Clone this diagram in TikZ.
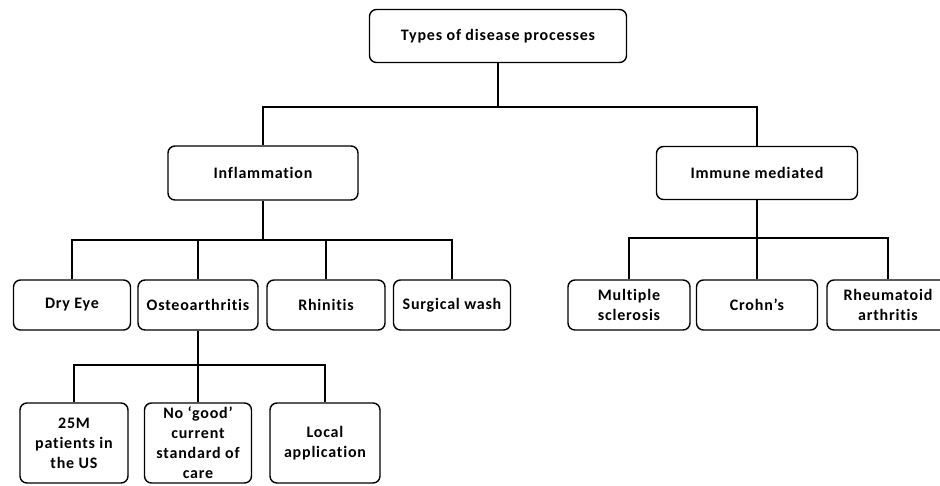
\documentclass[tikz,border=0pt]{standalone}
\usepackage{fontspec}
\setmainfont{Carlito}[LetterSpace=5, Ligatures=NoCommon]
\begin{document}
\begin{tikzpicture}[x=1pt, y=-1pt,
    box/.style={draw, line width=1.4pt, rounded corners=7pt, align=center, inner sep=0pt,
        font=\bfseries\fontsize{16}{20}\selectfont},
    link/.style={line width=1.3pt}]

    \useasboundingbox (0,0) rectangle (940,485);
    \clip (0,0) rectangle (940,485);

    \node[box, minimum width=257, minimum height=53] (types) at (498,36) {Types of disease processes};

    \node[box, minimum width=190, minimum height=54] (infl) at (263,173) {Inflammation};
    \node[box, minimum width=201, minimum height=53] (immune) at (757,173) {Immune mediated};

    \node[box, minimum width=117, minimum height=50] (dry) at (72,305) {Dry Eye};
    \node[box, minimum width=120, minimum height=50] (osteo) at (198,305) {Osteoarthritis};
    \node[box, minimum width=118, minimum height=50] (rhin) at (326,305) {Rhinitis};
    \node[box, minimum width=117, minimum height=50] (surg) at (452,305) {Surgical wash};

    \node[box, minimum width=122, minimum height=50] (ms) at (629,305) {Multiple\\sclerosis};
    \node[box, minimum width=121, minimum height=50] (crohn) at (757,305) {Crohn’s};
    \node[box, minimum width=122, minimum height=50] (rheum) at (888,305) {Rheumatoid\\arthritis};

    \node[box, minimum width=108, minimum height=80] (patients) at (74,443) {25M\\patients in\\the US};
    \node[box, minimum width=107, minimum height=80] (care) at (198,443) {No ‘good’\\current\\standard of\\care};
    \node[box, minimum width=110, minimum height=80] (local) at (325,443) {Local\\application};

    \coordinate (b1) at (498,107);
    \coordinate (b2) at (263,240);
    \coordinate (b3) at (757,238);
    \coordinate (b4) at (198,365);

    \draw[link] (types.south) -- (b1);
    \draw[link] (infl.north) |- (b1);
    \draw[link] (immune.north) |- (b1);

    \draw[link] (infl.south) -- (b2);
    \foreach \c in {dry,osteo,rhin,surg} \draw[link] (\c.north) |- (b2);

    \draw[line width=2.6pt] (immune.south) -- (b3);
    \foreach \c in {ms,crohn,rheum} \draw[link] (\c.north) |- (b3);

    \draw[link] (osteo.south) -- (b4);
    \foreach \c in {patients,care,local} \draw[link] (\c.north) |- (b4);

\end{tikzpicture}
\end{document}
